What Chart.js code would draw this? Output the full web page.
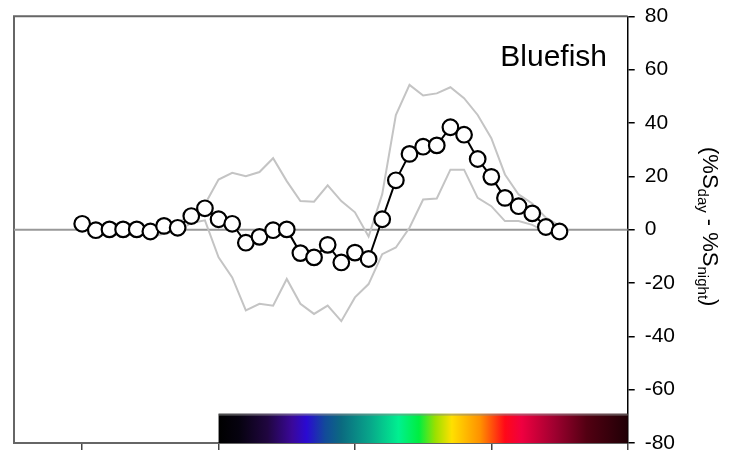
<!DOCTYPE html>
<html>
<head>
<meta charset="utf-8">
<script src="https://cdn.jsdelivr.net/npm/chart.js@4/dist/chart.umd.min.js"></script>
<style>
  html, body { margin: 0; padding: 0; background: #fff; }
  #c { display: block; }
</style>
</head>
<body>
<canvas id="c" width="736" height="460"></canvas>
<script>
// Sample positions along the horizontal axis
const positions = [0, 1, 2, 3, 4, 5, 6, 7, 8, 9,
  10, 11, 12, 13, 14, 15, 16, 17, 18, 19,
  20, 21, 22, 23, 24, 25, 26, 27, 28, 29,
  30, 31, 32, 33, 34, 35];

// Day minus night difference (%)
const diffValues = [2.2, -0.2, 0.1, 0.1, 0.1, -0.7, 1.4, 0.7, 5.1, 8.0,
  3.9, 2.2, -4.9, -2.7, -0.2, 0.1, -8.8, -10.4, -5.7, -12.3,
  -8.6, -11.0, 3.9, 18.5, 28.4, 31.1, 31.6, 38.4, 35.6, 26.5,
  19.8, 11.9, 8.8, 6.1, 1.0, -0.7];

// Upper and lower bounds
const upperValues = [2.2, 0.8, 0.8, 1.0, 1.0, 0.3, 1.8, 2.5, 5.5, 9.5,
  18.8, 21.3, 20.0, 21.6, 26.8, 18.2, 10.7, 10.5, 16.6, 10.7,
  6.5, -2.6, 13.3, 43.0, 54.3, 50.3, 51.1, 53.4, 49.3, 43.0,
  34.3, 20.7, 13.2, 9.8, 4.5, 1.5];
const lowerValues = [2.2, -1.0, -0.5, -0.5, -0.8, -3.0, -1.5, -0.5, 2.5, 3.5,
  -10.4, -17.9, -30.3, -27.8, -28.5, -18.5, -27.8, -31.6, -28.5, -34.3,
  -25.4, -20.4, -9.2, -6.7, 0.7, 11.3, 11.7, 22.5, 22.5, 11.9,
  8.8, 3.2, 3.2, 1.8, -0.8, -2.0];

const xTicks = [0, 10, 20, 30, 40];
const yTicks = [-80, -60, -40, -20, 0, 20, 40, 60, 80];

// Spectrum strip: horizontal extent and vertical extent in data units
const spectrumX = [10, 40];
const spectrumY = [-80, -69];

const FONT = '"Liberation Sans", Arial, Helvetica, sans-serif';

const toPoints = (vals) => positions.map((p, i) => ({ x: p, y: vals[i] }));

const decorations = {
  id: 'decorations',
  beforeDraw(chart) {
    const ctx = chart.ctx;
    ctx.save();
    ctx.fillStyle = '#ffffff';
    ctx.fillRect(0, 0, chart.width, chart.height);
    ctx.restore();
  },
  beforeDatasetsDraw(chart) {
    const { ctx, chartArea: a, scales: { x, y } } = chart;
    ctx.save();
    // frame on the top and left
    ctx.strokeStyle = '#666666';
    ctx.lineWidth = 2;
    ctx.beginPath();
    ctx.moveTo(a.left, a.bottom);
    ctx.lineTo(a.left, a.top);
    ctx.lineTo(a.right, a.top);
    ctx.stroke();

    // zero reference line
    const y0 = y.getPixelForValue(0);
    ctx.strokeStyle = '#999999';
    ctx.lineWidth = 2;
    ctx.beginPath();
    ctx.moveTo(a.left, y0);
    ctx.lineTo(a.right, y0);
    ctx.stroke();

    // spectrum strip
    const x1 = x.getPixelForValue(spectrumX[0]);
    const x2 = x.getPixelForValue(spectrumX[1]);
    const yb = y.getPixelForValue(spectrumY[0]);
    const yt = y.getPixelForValue(spectrumY[1]);
    const g = ctx.createLinearGradient(x1, 0, x2, 0);
    const stops = [
      [0.00, '#000000'], [0.05, '#06020f'], [0.12, '#200640'],
      [0.18, '#3a089a'], [0.215, '#2a0ad2'], [0.26, '#124a9a'],
      [0.30, '#0b6a80'], [0.37, '#08a68a'], [0.44, '#00f090'],
      [0.49, '#00ee40'], [0.53, '#9be000'], [0.57, '#ffe000'],
      [0.64, '#ff9000'], [0.70, '#ff0818'], [0.74, '#f00040'],
      [0.82, '#a00030'], [0.90, '#520012'], [1.00, '#200006']
    ];
    stops.forEach(([o, c]) => g.addColorStop(o, c));
    ctx.fillStyle = g;
    ctx.fillRect(x1, yt, x2 - x1, yb - yt);
    ctx.fillStyle = 'rgba(140,140,140,0.55)';
    ctx.fillRect(x1, yt, x2 - x1, 2);
    ctx.restore();
  },
  afterDraw(chart) {
    const ctx = chart.ctx;
    ctx.save();
    // panel name
    ctx.fillStyle = '#000';
    ctx.font = '30px ' + FONT;
    ctx.textAlign = 'right';
    ctx.textBaseline = 'alphabetic';
    ctx.fillText('Bluefish', 607, 66);

    // vertical axis title with subscripts, reading top to bottom
    ctx.translate(703, 147);
    ctx.rotate(Math.PI / 2);
    ctx.textAlign = 'left';
    const big = '22px ' + FONT;
    const small = '15px ' + FONT;
    const parts = [
      ['(%S', big, 0], ['day', small, 5], [' - %S', big, 0], ['night', small, 5], [')', big, 0]
    ];
    let cx = 0;
    parts.forEach(([t, f, dy]) => {
      ctx.font = f;
      ctx.fillText(t, cx, dy);
      cx += ctx.measureText(t).width;
    });
    ctx.restore();
  }
};

new Chart(document.getElementById('c'), {
  type: 'line',
  data: {
    datasets: [
      {
        data: toPoints(diffValues),
        borderColor: '#000000',
        borderWidth: 2,
        pointRadius: 7.8,
        pointBorderWidth: 2.2,
        pointBackgroundColor: '#ffffff',
        pointBorderColor: '#000000',
        tension: 0
      },
      {
        data: toPoints(upperValues),
        borderColor: '#c4c4c4',
        borderWidth: 2,
        pointRadius: 0,
        tension: 0
      },
      {
        data: toPoints(lowerValues),
        borderColor: '#c4c4c4',
        borderWidth: 2,
        pointRadius: 0,
        tension: 0
      }
    ]
  },
  options: {
    responsive: false,
    animation: false,
    layout: { padding: { top: 14.5, left: 14, right: 0, bottom: 0 } },
    plugins: { legend: { display: false }, tooltip: { enabled: false }, title: { display: false } },
    scales: {
      x: {
        type: 'linear',
        min: -5,
        max: 40,
        afterBuildTicks(s) { s.ticks = xTicks.map(v => ({ value: v })); },
        afterFit(s) { s.height = 17; },
        ticks: { display: false },
        grid: { drawOnChartArea: false, drawTicks: true, tickLength: 7, color: '#444444', lineWidth: 1.5 },
        border: { display: true, color: '#666666', width: 2 }
      },
      y: {
        position: 'right',
        min: -80,
        max: 80,
        afterBuildTicks(s) { s.ticks = yTicks.map(v => ({ value: v })); },
        afterFit(s) { s.width = 108.3; },
        ticks: { color: '#000000', font: { family: FONT, size: 21, lineHeight: 0.6 }, padding: 10 },
        grid: { drawOnChartArea: false, drawTicks: true, tickLength: 7, color: '#000000', lineWidth: 1.5 },
        border: { display: true, color: '#000000', width: 1.5 }
      }
    }
  },
  plugins: [decorations]
});
</script>
</body>
</html>
